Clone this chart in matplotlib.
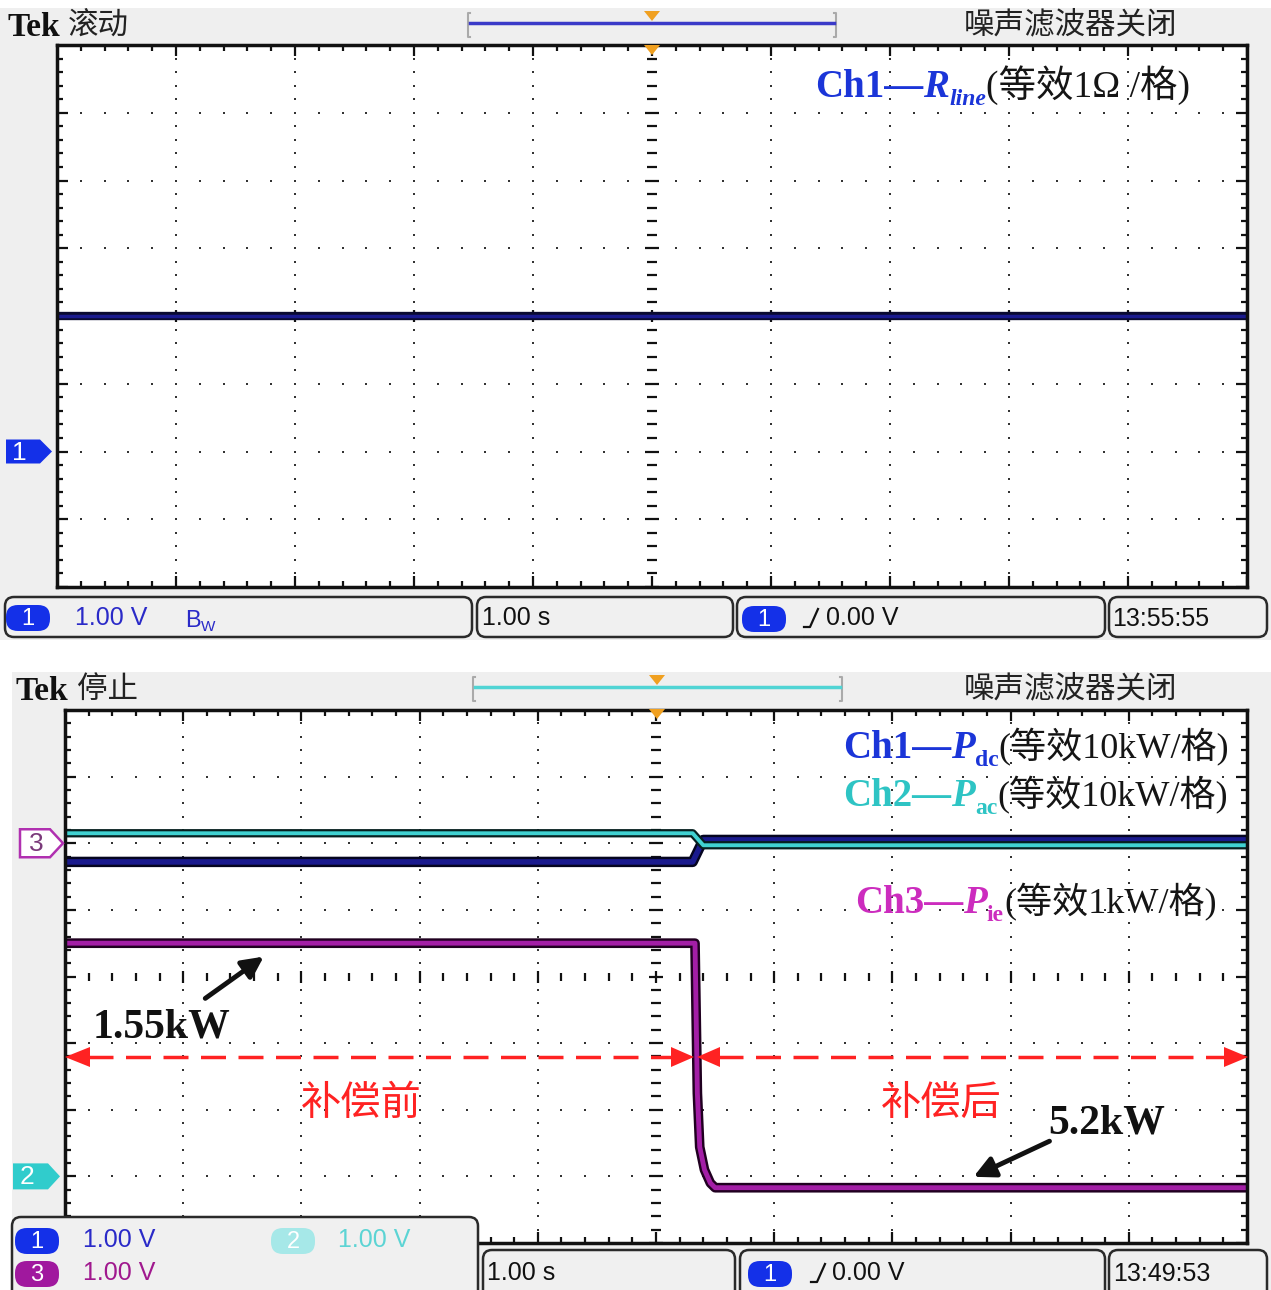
import matplotlib
matplotlib.use("Agg")
import matplotlib.pyplot as plt
from matplotlib.patches import FancyBboxPatch, Polygon, Rectangle
from matplotlib.collections import LineCollection
import numpy as np

plt.rcParams['lines.scale_dashes'] = False

W, H = 1271, 1290
CJK = ['Noto Sans CJK SC', 'DejaVu Sans']
SERIF = ['Liberation Serif', 'DejaVu Serif']
MIX = ['Liberation Serif', 'Noto Sans CJK SC', 'DejaVu Sans']
NARROW = ['Liberation Sans Narrow', 'DejaVu Sans Condensed', 'Liberation Sans', 'DejaVu Sans']

# ---- data (levels in divisions from the bottom of the screen, time in s, 1.00 s/div) ----
top_t = [-5.0, 5.0]
top_ch1 = [4.0, 4.0]          # R_line, 1 ohm/div
top_ch1_gnd = 2.0

bot_t = [-5.0, 0.31, 0.40, 5.0]
bot_ch1 = [5.72, 5.72, 6.05, 6.05]   # P_dc
bot_ch2 = [6.15, 6.15, 5.97, 5.97]   # P_ac
bot_t3 = [-5.0, 0.33, 0.35, 0.37, 0.41, 0.46, 0.50, 5.0]
bot_ch3 = [4.50, 4.50, 2.25, 1.44, 1.10, 0.90, 0.83, 0.83]  # P_ie, 1 kW/div
bot_ch3_gnd = 6.0
bot_ch2_gnd = 1.0

label_before = '1.55kW'
label_after = '5.2kW'

# colours
C1 = '#1b35d8'
C1_TRACE = '#1a1a8e'
C2 = '#2ec4c4'
C2_TRACE = '#40d2d2'
C3 = '#cc2cbe'
C3_TRACE = '#a31ea6'
BADGE1 = '#1430e8'
RED = '#ff2222'
GRAY = '#efefef'
ST = 18   # status bar font size

fig = plt.figure(figsize=(W / 100, H / 100), dpi=100)

bg = fig.add_axes([0, 0, 1, 1], zorder=0)
bg.set_xlim(0, W); bg.set_ylim(H, 0); bg.axis('off')
bg.add_patch(Rectangle((0, 8), W, 632, color=GRAY, lw=0))
bg.add_patch(Rectangle((12, 672), W - 12, H - 672, color=GRAY, lw=0))


def graticule(ax, wpx, hpx):
    ax.set_xlim(-5, 5)
    ax.set_ylim(0, 8)
    ax.set_xticks([])
    ax.set_yticks([])
    ax.set_facecolor('white')
    for s in ax.spines.values():
        s.set_linewidth(2.5)
        s.set_color('#111111')
    px = 10 / wpx
    py = 8 / hpx
    xs = np.round(np.arange(-5, 5.001, 0.2), 3)
    ys = np.round(np.arange(0, 8.001, 0.2), 3)
    for gy in [1, 2, 3, 5, 6, 7]:
        ax.plot(xs, np.full(len(xs), gy), ls='none', marker='s', ms=2.0, mew=0, color='#333333')
    for gx in [-4, -3, -2, -1, 1, 2, 3, 4]:
        ax.plot(np.full(len(ys), gx), ys, ls='none', marker='s', ms=2.0, mew=0, color='#333333')
    segs = []
    for x in xs:
        major = abs(x - round(x)) < 1e-6
        L = 6 if major else 4
        segs.append([(x, 4 - L * py), (x, 4 + L * py)])
        Lb = 11 if major else 6
        segs.append([(x, 0), (x, Lb * py)])
        segs.append([(x, 8), (x, 8 - Lb * py)])
    for y in ys:
        major = abs(y - round(y)) < 1e-6
        L = 7 if major else 5
        segs.append([(-L * px, y), (L * px, y)])
        Lb = 11 if major else 6
        segs.append([(-5, y), (-5 + Lb * px, y)])
        segs.append([(5, y), (5 - Lb * px, y)])
    ax.add_collection(LineCollection(segs, colors='#111111', linewidths=1.6))


# ---- top screen ----
ax1 = fig.add_axes([57 / W, 1 - 587 / H, 1190 / W, 542 / H], zorder=1)
graticule(ax1, 1190, 542)
ax1.plot(top_t, top_ch1, color='#0a0a30', lw=6, solid_capstyle='butt')
ax1.plot(top_t, top_ch1, color=C1_TRACE, lw=2.5, solid_capstyle='butt')

# ---- bottom screen ----
ax2 = fig.add_axes([65 / W, 1 - 1243 / H, 1182 / W, 533 / H], zorder=1)
graticule(ax2, 1182, 533)
ax2.plot(bot_t, bot_ch1, color='#050520', lw=7.5, solid_capstyle='butt')
ax2.plot(bot_t, bot_ch1, color=C1_TRACE, lw=4, solid_capstyle='butt')
ax2.plot(bot_t, bot_ch2, color='#062020', lw=6, solid_capstyle='butt')
ax2.plot(bot_t, bot_ch2, color=C2_TRACE, lw=2.8, solid_capstyle='butt')
ax2.plot(bot_t3, bot_ch3, color='#200020', lw=7, solid_capstyle='butt')
ax2.plot(bot_t3, bot_ch3, color=C3_TRACE, lw=3.5, solid_capstyle='butt')

# ---- overlay in pixel coordinates ----
ov = fig.add_axes([0, 0, 1, 1], zorder=2)
ov.set_xlim(0, W); ov.set_ylim(H, 0); ov.axis('off')
ov.patch.set_alpha(0)
R = fig.canvas.get_renderer()


def runs(x, y, parts):
    for s, kw, dy in parts:
        t = ov.text(x, y + dy, s, va='baseline', ha='left', **kw)
        x += t.get_window_extent(renderer=R).width


def box(x0, y0, x1, y1):
    ov.add_patch(FancyBboxPatch((x0, y0), x1 - x0, y1 - y0, boxstyle='round,pad=0,rounding_size=9',
                                fc='#f0f0f0', ec='#2a2a2a', lw=1.8, zorder=3))


def badge(cx, cy, num, fc, tc='white', w=44, h=26):
    ov.add_patch(FancyBboxPatch((cx - w / 2, cy - h / 2), w, h, boxstyle='round,pad=0,rounding_size=12',
                                fc=fc, ec='none', zorder=4))
    ov.text(cx, cy + 1, num, ha='center', va='center', color=tc, fontsize=17, family=NARROW, zorder=5)


def edge(x, y):
    ov.plot([x, x + 6, x + 14], [y + 9, y + 9, y - 9], color='#111111', lw=1.6, zorder=5)


def status(x, y, s, color='#111111'):
    ov.text(x, y, s, family=NARROW, fontsize=ST, va='center', color=color, zorder=5)


def header(y_mid, tek_x, word, word_x, bar_x0, bar_x1, bar_color, trig_x, trig_y2):
    ov.text(tek_x, y_mid + 11, 'Tek', family=SERIF, weight='bold', fontsize=24, va='baseline', color='#111111')
    ov.text(word_x, y_mid, word, family=CJK, fontsize=22, va='center', color='#222222')
    ov.text(1071, y_mid, '噪声滤波器关闭', family=CJK, fontsize=22, va='center', ha='center', color='#222222')
    ov.plot([bar_x0 + 2, bar_x0, bar_x0, bar_x0 + 2], [y_mid - 12, y_mid - 12, y_mid + 12, y_mid + 12],
            color='#aaaaaa', lw=1.5)
    ov.plot([bar_x1 - 2, bar_x1, bar_x1, bar_x1 - 2], [y_mid - 12, y_mid - 12, y_mid + 12, y_mid + 12],
            color='#aaaaaa', lw=1.5)
    ov.plot([bar_x0 + 2, bar_x1 - 2], [y_mid - 2, y_mid - 2], color=bar_color, lw=2.5)
    for ty in (y_mid - 14, trig_y2):
        ov.add_patch(Polygon([(trig_x - 8, ty), (trig_x + 8, ty), (trig_x, ty + 10)], color='#f0a020', lw=0))


header(25, 8, '滚动', 68, 468, 836, '#3a3ac8', 652, 45)
header(689, 15, '停止', 77, 473, 842, '#50d4d4', 657, 709)

# top status bar
box(5, 597, 472, 637)
badge(28, 618, '1', BADGE1)
status(75, 618, '1.00 V', '#2a2ac8')
runs(185, 627, [('B', dict(family=NARROW, fontsize=17, color='#2a2ac8', zorder=5), 0),
                ('W', dict(family=NARROW, fontsize=11, color='#2a2ac8', zorder=5), 4)])
box(477, 597, 733, 637)
status(482, 618, '1.00 s')
box(737, 597, 1105, 637)
badge(764, 619, '1', BADGE1)
edge(804, 618)
status(826, 618, '0.00 V')
box(1109, 597, 1267, 637)
status(1112, 619, '13:55:55')

# bottom status bar
box(12, 1217, 478, 1300)
badge(37, 1241, '1', BADGE1)
status(83, 1240, '1.00 V', '#2a2ac8')
badge(293, 1241, '2', '#a6e8e8')
status(338, 1240, '1.00 V', '#5cd4d4')
badge(37, 1274, '3', '#a0189e')
status(83, 1273, '1.00 V', '#a0188e')
box(483, 1250, 735, 1300)
status(487, 1273, '1.00 s')
box(740, 1250, 1105, 1300)
badge(770, 1274, '1', BADGE1)
edge(811, 1273)
status(832, 1273, '0.00 V')
box(1109, 1250, 1267, 1300)
status(1113, 1274, '13:49:53')

# channel markers on the left
y1 = 587 - top_ch1_gnd * 542 / 8
ov.add_patch(Polygon([(6, y1 - 12), (40, y1 - 12), (52, y1), (40, y1 + 12), (6, y1 + 12)], color=BADGE1, lw=0))
ov.text(19, y1 + 1, '1', color='white', fontsize=19, ha='center', va='center', family=NARROW)
y3 = 1243 - bot_ch3_gnd * 533 / 8
ov.add_patch(Polygon([(20, y3 - 14), (50, y3 - 14), (63, y3), (50, y3 + 14), (20, y3 + 14)],
                     fc='white', ec='#b030b0', lw=1.8))
ov.text(36, y3 + 1, '3', color='#7a3a7a', fontsize=19, ha='center', va='center', family=NARROW)
y2 = 1243 - bot_ch2_gnd * 533 / 8
ov.add_patch(Polygon([(13, y2 - 13), (48, y2 - 13), (60, y2), (48, y2 + 13), (13, y2 + 13)], color='#30cccc', lw=0))
ov.text(27, y2 + 1, '2', color='white', fontsize=19, ha='center', va='center', family=NARROW)

# legends
big = dict(family=SERIF, weight='bold', fontsize=28)
runs(815, 97, [('Ch1—', dict(big, color=C1), 0),
               ('R', dict(big, color=C1, style='italic'), 0),
               ('line', dict(family=SERIF, weight='bold', style='italic', fontsize=17, color=C1), 8),
               ('(等效1Ω /格)', dict(family=MIX, fontsize=27, color='#151515'), 0)])
runs(843, 758, [('Ch1—', dict(big, color=C1), 0),
                ('P', dict(big, color=C1, style='italic'), 0),
                ('dc', dict(family=SERIF, weight='bold', fontsize=17, color=C1), 8),
                ('(等效10kW/格)', dict(family=MIX, fontsize=26, color='#151515'), 0)])
runs(843, 806, [('Ch2—', dict(big, color=C2), 0),
                ('P', dict(big, color=C2, style='italic'), 0),
                ('ac', dict(family=SERIF, weight='bold', fontsize=17, color=C2), 8),
                ('(等效10kW/格)', dict(family=MIX, fontsize=26, color='#151515'), 0)])
runs(855, 913, [('Ch3—', dict(big, color=C3), 0),
                ('P', dict(big, color=C3, style='italic'), 0),
                ('ie', dict(family=SERIF, weight='bold', fontsize=17, color=C3), 8),
                ('(等效1kW/格)', dict(family=MIX, fontsize=26, color='#151515'), 0)])

# annotations
ov.text(93, 1037, label_before, family=SERIF, weight='bold', fontsize=30, color='#111111')
ov.text(1048, 1133, label_after, family=SERIF, weight='bold', fontsize=30, color='#111111')
ov.annotate('', xy=(266, 955), xytext=(203, 1000),
            arrowprops=dict(arrowstyle='-|>', lw=3.5, color='#111111', mutation_scale=32))
ov.annotate('', xy=(971, 1178), xytext=(1052, 1140),
            arrowprops=dict(arrowstyle='-|>', lw=3.5, color='#111111', mutation_scale=32))

ya = 1057
ov.plot([88, 672], [ya, ya], color=RED, lw=2.5, dashes=(18, 9))
ov.plot([718, 1226], [ya, ya], color=RED, lw=2.5, dashes=(18, 9))
for tip, base in [(65, 90), (694, 671), (697, 720), (1248, 1224)]:
    ov.add_patch(Polygon([(tip, ya), (base, ya - 10), (base, ya + 10)], color=RED, lw=0))
ov.text(361, 1103, '补偿前', family=CJK, fontsize=29, color=RED, ha='center', va='center')
ov.text(941, 1103, '补偿后', family=CJK, fontsize=29, color=RED, ha='center', va='center')

fig.savefig('out.png', dpi=100)
